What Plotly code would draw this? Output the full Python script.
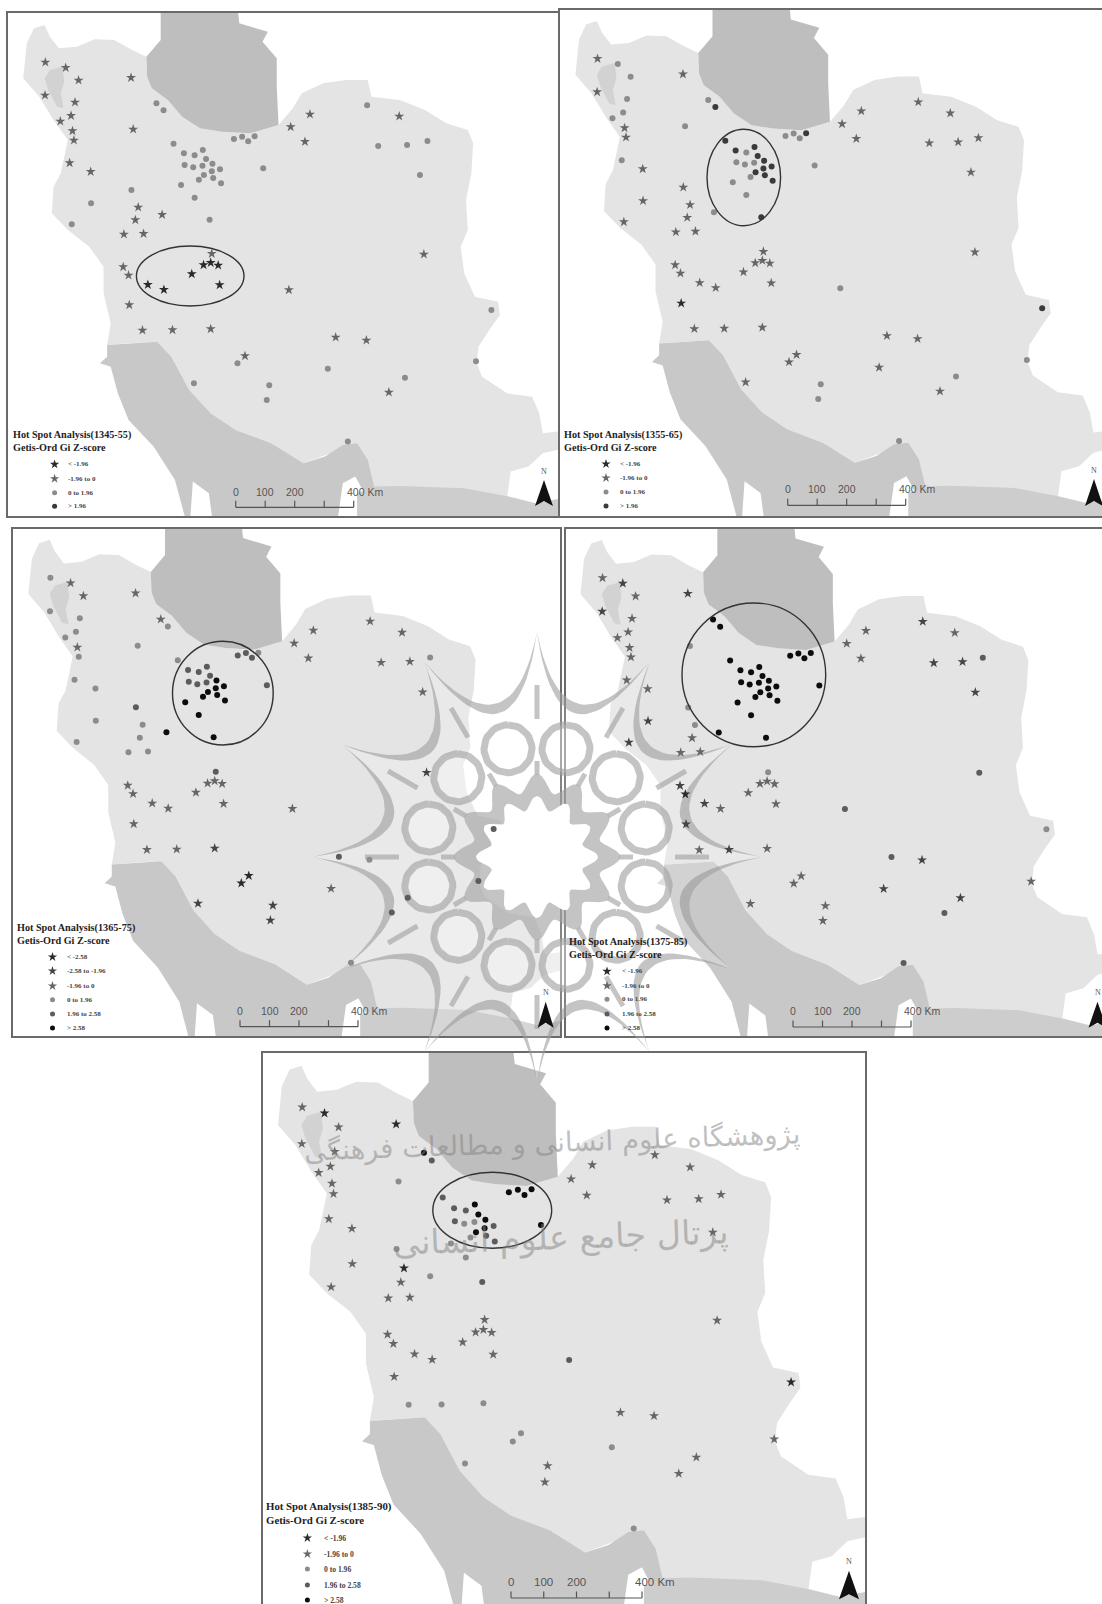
import numpy as np
import plotly.graph_objects as go

W, H = 1102, 1604

# ---------- station positions (map units) ----------
station_x = [127,184,220,126,210,199,169,203,207,195,254,367,373,438,458,486,515,545,568,577,
             517,541,567,595,616,593,571,597,557,619,507,545,655,678,695,713,737,368,255,387,
             454,379,201,347,402,587,593,570,590,611,537,345,360,414,459,615,809,362,399,483,
             590,686,665,543,754,747,918,940,1026,1134,1089,1333,1376,1187,974,814,868,854,1028,1118,
             1059,1140,1197,1176]
station_y = [187,203,241,286,307,347,364,393,421,489,515,233,388,310,331,431,460,466,450,477,
             495,502,497,491,508,514,525,534,539,550,555,593,417,410,424,409,505,570,610,622,
             644,660,673,703,701,659,761,795,788,796,822,801,826,854,869,855,870,915,991,990,
             987,1068,1090,1150,1156,1200,1106,1012,1021,1133,1177,1084,930,763,1325,381,343,425,316,349,
             438,435,423,525]

# ---------- z-score class of every station in each period ----------
class_1345 = "s s s s s s s s s s  s s s c c c c c c c  c c c c c c c c c c  c c c c c c c c c s  s s c s s c s S S S  S s s S S S s s s s  s s c c c c c s s c  s c c s c s s s c s  c c c c".split()
class_1355 = "s c c s c c c s s c  s s c c D D D c D D  c c c D D D D D c D  c c c c c D c s s s  c s s s s D s s s s  s s s s s s c S s s  s s s s c c s s s c  s c D s c s s s s s  s s s s".split()
class_1365 = "c s s c c c c s c c  c s c s c c m m m m  m m m d d d d d d d  d d m m m c m m c c  d c c c c d m s s s  s s s s s s s s s s  T S S T T T s m c m  m m m T c s s s s s  s s c s".split()
class_1375 = "s T s T s s s s s s  s T c d d d d d d d  d d d d d d d d d d  d d d d d d d c T c  d s T s s d c s s s  s T S T s s m T s T  s s s s s s T m T T  m s c m m s s s T s  T T m T".split()
class_1385 = "s S s s s s s s s s  s S c d m m m m d d  m c c d m d d m c m  c c d d d d d c s S  c s s s s m s s s s  s s s s s s m s c c  c c c c s s c s s s  s s S s c s s s s s  s s s s".split()
period_classes = [class_1345, class_1355, class_1365, class_1375, class_1385]

titles = ["Hot Spot Analysis(1345-55)", "Hot Spot Analysis(1355-65)", "Hot Spot Analysis(1365-75)",
          "Hot Spot Analysis(1375-85)", "Hot Spot Analysis(1385-90)"]
subtitle = "Getis-Ord Gi Z-score"
legend_labels = [["< -1.96", "-1.96 to 0", "0 to 1.96", "> 1.96"],
                 ["< -1.96", "-1.96 to 0", "0 to 1.96", "> 1.96"],
                 ["< -2.58", "-2.58 to -1.96", "-1.96 to 0", "0 to 1.96", "1.96 to 2.58", "> 2.58"],
                 ["< -1.96", "-1.96 to 0", "0 to 1.96", "1.96 to 2.58", "> 2.58"],
                 ["< -1.96", "-1.96 to 0", "0 to 1.96", "1.96 to 2.58", "> 2.58"]]
legend_classes = [["S","s","c","D"], ["S","s","c","D"], ["S","T","s","c","m","d"],
                  ["S","s","c","m","d"], ["S","s","c","m","d"]]
scale_labels = ["0", "100", "200", "400 Km"]

# ---------- base map outlines (map units) ----------
iran_x = [95,125,140,165,215,265,320,370,410,412,425,470,510,560,620,700,780,820,845,905,970,1030,1040,1120,1190,1250,1310,1325,1320,1305,1310,1290,1300,1330,1395,1400,1370,1340,1335,1350,1420,1490,1510,1520,1600,1600,1520,1480,1430,1420,1300,1200,1050,
          1000,850,760,660,590,530,480,440,360,300,310,290,290,250,190,145,150,170,190,150,110,65,75]
iran_y = [85,75,110,145,140,118,120,150,170,230,265,300,350,385,395,400,375,325,280,250,240,240,290,300,330,370,390,430,520,600,690,740,820,890,905,945,990,1040,1090,1130,1180,1190,1240,1300,1290,1340,1360,1400,1415,1495,1495,1495,1495,
          1330,1390,1330,1290,1240,1170,1070,1025,1030,1035,970,880,800,740,690,640,560,520,420,360,290,235,130]
caspian_x = [450,665,670,700,750,735,775,775,780,700,620,560,510,470,425,412,410,450]
caspian_y = [20,20,70,80,95,125,175,260,375,400,395,385,350,300,265,230,170,120]
gulf_x = [300,360,440,480,530,590,660,760,850,910,960,1000,1030,1050,1020,995,960,940,600,585,540,530,490,430,360,330,310,280,300]
gulf_y = [1035,1030,1025,1070,1170,1240,1290,1330,1390,1370,1335,1330,1380,1470,1480,1430,1450,1600,1600,1480,1445,1600,1440,1340,1260,1180,1100,1090,1070]
oman_x = [1050,1120,1300,1425,1500,1600,1600,1000,1000]
oman_y = [1460,1458,1465,1490,1510,1490,1600,1600,1480]
urmia_x = [140,175,180,170,178,160,135,125]
urmia_y = [210,200,245,280,325,320,270,235]

# ---------- page layout of the panels (pixels) ----------
frames = [(8,13,558,516), (560,10,1102,516), (13,529,560,1036), (566,529,1102,1036), (263,1053,865,1604)]
# map-unit to pixel: (ax, bx, ay, by)
transforms = [(0.3571,0,0.3333,0), (0.3560,552.3,0.3359,-4.1), (0.3549,5.3,0.3383,514.4),
              (0.3554,557.4,0.3383,514.7), (0.3914,252.5,0.3701,1038)]
ellipses = [(136.4,246,244,306), (707,129.3,780.6,225.7), (172.5,641.3,273.2,745),
            (682,603,825.7,746.7), (432.8,1172.3,551.7,1248.2)]
title_pos = [(10.5,435,447), (562,434.7,447), (15,928,940), (567.4,942.3,954), (264,1506,1519.6)]
legend_sym_x = [54.6, 606, 52.5, 607, 307.4]
legend_txt_x = [66, 618, 65, 620, 322]
legend_y = [[464.3,478.7,492.7,506.3], [464,478,492,506], [957,971,986,999.7,1014,1028],
            [971.3,985.7,999.3,1014,1028], [1538,1554,1569,1585,1600]]
scale_bars = [(235.7,118,507.3,491.7), (787.7,118,505.3,489.3), (240,118,1026.7,1011),
              (793,118,1027,1011), (511,131,1598,1581.7)]
norths = [(544,480,506,9,471), (1094,479,506,9,470), (545.7,1001.7,1027.7,8,992),
          (1097.5,1001.7,1027.7,9,992), (849,1570.7,1599.3,10,1561)]

star_classes = {"S": "#2a2a2a", "T": "#444444", "s": "#666666"}
dot_classes = {"c": "#8c8c8c", "m": "#5c5c5c", "D": "#3a3a3a", "d": "#0c0c0c"}
COL = {**star_classes, **dot_classes}

fig = go.Figure()
layout = dict(width=W, height=H, margin=dict(l=0, r=0, t=0, b=0), autosize=False, showlegend=False,
              paper_bgcolor="white", plot_bgcolor="rgba(0,0,0,0)", shapes=[], annotations=[])


def hidden(**kw):
    return dict(visible=False, showgrid=False, zeroline=False, fixedrange=True, **kw)


def panel_ranges(i):
    x0, y0, x1, y1 = frames[i]
    ax, bx, ay, by = transforms[i]
    return dict(
        xr=[(x0 - bx) / ax, (x1 - bx) / ax], yr=[(y1 - by) / ay, (y0 - by) / ay],
        xd=[x0 / W, x1 / W], yd=[1 - y1 / H, 1 - y0 / H])


# base maps: axes 1-5
for i in range(5):
    n = i + 1
    r = panel_ranges(i)
    xa, ya = f"x{n}", f"y{n}"
    for px, py, col in [(iran_x, iran_y, "#e4e4e4"), (caspian_x, caspian_y, "#bebebe"),
                        (gulf_x, gulf_y, "#c8c8c8"), (oman_x, oman_y, "#cdcdcd"), (urmia_x, urmia_y, "#d2d2d2")]:
        fig.add_trace(go.Scatter(x=px + px[:1], y=py + py[:1], mode="lines", fill="toself", fillcolor=col,
                                 line=dict(width=0, color=col), hoverinfo="skip", xaxis=xa, yaxis=ya))
    axis_style = dict(showline=True, linecolor="#6a6a6a", linewidth=1.5, showgrid=False,
                      zeroline=False, showticklabels=False, ticks="", fixedrange=True)
    # panels running off the page edge have no line on that edge
    layout[f"xaxis{n}"] = dict(range=r["xr"], domain=r["xd"], anchor=ya, mirror=i != 4,
                               side="top" if i == 4 else "bottom", **axis_style)
    layout[f"yaxis{n}"] = dict(range=r["yr"], domain=r["yd"], anchor=xa, mirror=i not in (1, 3), **axis_style)

# watermark: axis 6 (page pixels)
cx, cy, tip_r = 537.0, 857.0, 225.0
wm = "rgba(160,160,160,0.62)"


def wm_pts(r, deg):
    a = np.radians(deg)
    return cx + r * np.sin(a), cy - r * np.cos(a)


veil_x, veil_y = [], []
cres_x, cres_y = [], []
t = np.linspace(0, 1, 28)
for k in range(12):
    a0, a1 = 30 * k, 30 * (k + 1)
    p0, p2 = wm_pts(tip_r, a0), wm_pts(tip_r, a1)
    c_out, c_in = wm_pts(100, a0 + 15), wm_pts(80, a0 + 15)
    bx_o = (1-t)**2*p0[0] + 2*(1-t)*t*c_out[0] + t**2*p2[0]
    by_o = (1-t)**2*p0[1] + 2*(1-t)*t*c_out[1] + t**2*p2[1]
    bx_i = (1-t)**2*p0[0] + 2*(1-t)*t*c_in[0] + t**2*p2[0]
    by_i = (1-t)**2*p0[1] + 2*(1-t)*t*c_in[1] + t**2*p2[1]
    cres_x += list(bx_o) + list(bx_i[::-1]) + [bx_o[0], None]
    cres_y += list(by_o) + list(by_i[::-1]) + [by_o[0], None]
    veil_x += list(bx_i)
    veil_y += list(by_i)
fig.add_trace(go.Scatter(x=veil_x + veil_x[:1], y=veil_y + veil_y[:1], mode="lines", fill="toself",
                         fillcolor="rgba(255,255,255,0.18)", line=dict(width=0), hoverinfo="skip",
                         xaxis="x6", yaxis="y6"))
fig.add_trace(go.Scatter(x=cres_x, y=cres_y, mode="lines", fill="toself", fillcolor=wm, line=dict(width=0),
                         hoverinfo="skip", xaxis="x6", yaxis="y6"))
# short links: ring band to centre band, and ring band out to the spike bases
sp_x, sp_y = [], []
for k in range(12):
    for r_a, r_b in [(82, 96), (138, 172)]:
        p_a, p_b = wm_pts(r_a, 30 * k), wm_pts(r_b, 30 * k)
        sp_x += [p_a[0], p_b[0], None]
        sp_y += [p_a[1], p_b[1], None]
fig.add_trace(go.Scatter(x=sp_x, y=sp_y, mode="lines", line=dict(width=5, color=wm), hoverinfo="skip",
                         xaxis="x6", yaxis="y6"))
th = np.linspace(0, 360, 49)
for k in range(12):
    ccx, ccy = wm_pts(112, 15 + 30 * k)
    ring_x = ccx + 24 * np.sin(np.radians(th))
    ring_y = ccy - 24 * np.cos(np.radians(th))
    fig.add_trace(go.Scatter(x=ring_x, y=ring_y, mode="lines", line=dict(width=7, color=wm), fill="toself",
                             fillcolor="rgba(255,255,255,0.30)", hoverinfo="skip", xaxis="x6", yaxis="y6"))
th2 = np.linspace(0, 360, 241)
ro = 74 + 9 * np.cos(np.radians(12 * th2))
fig.add_trace(go.Scatter(x=cx + ro*np.sin(np.radians(th2)), y=cy - ro*np.cos(np.radians(th2)), mode="lines",
                         fill="toself", fillcolor=wm, line=dict(width=0), hoverinfo="skip", xaxis="x6", yaxis="y6"))
rf = 54 + 7 * np.cos(np.radians(12 * th2))
fig.add_trace(go.Scatter(x=cx + rf*np.sin(np.radians(th2)), y=cy - rf*np.cos(np.radians(th2)), mode="lines",
                         fill="toself", fillcolor="white", line=dict(width=0), hoverinfo="skip", xaxis="x6", yaxis="y6"))
layout["xaxis6"] = hidden(range=[0, W], domain=[0, 1], anchor="y6")
layout["yaxis6"] = hidden(range=[H, 0], domain=[0, 1], anchor="x6")

# stations: axes 7-11
for i, cls in enumerate(period_classes):
    n = 7 + i
    r = panel_ranges(i)
    for c in ["c", "s", "T", "m", "D", "S", "d"]:
        idx = [j for j, v in enumerate(cls) if v == c]
        if not idx:
            continue
        is_star = c in star_classes
        fig.add_trace(go.Scatter(
            x=[station_x[j] for j in idx], y=[station_y[j] for j in idx], mode="markers",
            marker=dict(symbol="star" if is_star else "circle", size=7.5 if is_star else 6, color=COL[c],
                        line=dict(width=0)),
            hoverinfo="skip", xaxis=f"x{n}", yaxis=f"y{n}"))
    layout[f"xaxis{n}"] = hidden(range=r["xr"], domain=r["xd"], anchor=f"y{n}")
    layout[f"yaxis{n}"] = hidden(range=r["yr"], domain=r["yd"], anchor=f"x{n}")

# map furniture: axis 12 (page pixels)
ann = layout["annotations"]


def note(x, y, text, size, family="Liberation Serif", color="#222222", anchor="left", **kw):
    ann.append(dict(x=x, y=y, xref="x12", yref="y12", text=text, showarrow=False, xanchor=anchor, yanchor="middle",
                    font=dict(family=family, size=size, color=color), **kw))


for i in range(5):
    big = i == 4
    # ellipse
    ex0, ey0, ex1, ey1 = ellipses[i]
    layout["shapes"].append(dict(type="circle", xref="x12", yref="y12", x0=ex0, y0=ey0, x1=ex1, y1=ey1,
                                 line=dict(color="#333333", width=1.4), layer="above"))
    # titles
    tx, ty1, ty2 = title_pos[i]
    note(tx, ty1, f"<b>{titles[i]}</b>", 10.2 if not big else 10.8)
    note(tx, ty2, f"<b>{subtitle}</b>", 10.2 if not big else 10.8)
    # legend
    for lab, c, ly in zip(legend_labels[i], legend_classes[i], legend_y[i]):
        is_star = c in star_classes
        fig.add_trace(go.Scatter(x=[legend_sym_x[i]], y=[ly], mode="markers",
                                 marker=dict(symbol="star" if is_star else "circle", size=7 if is_star else 5,
                                             color=COL[c], line=dict(width=0)),
                                 hoverinfo="skip", xaxis="x12", yaxis="y12"))
        note(legend_txt_x[i], ly, f"<b>{lab}</b>", 7 if not big else 7.6, color="#444444")
    # scale bar
    bx0, bw, by_, ly_ = scale_bars[i]
    sx, sy = [bx0, bx0 + bw], [by_, by_]
    ticks = [0, 0.25, 0.5, 0.75, 1]
    tick_h = 6.5
    xs, ys = list(sx) + [None], list(sy) + [None]
    for f in ticks:
        xs += [bx0 + f * bw, bx0 + f * bw, None]
        ys += [by_, by_ - tick_h, None]
    fig.add_trace(go.Scatter(x=xs, y=ys, mode="lines", line=dict(color="#555555", width=1.2), hoverinfo="skip",
                             xaxis="x12", yaxis="y12"))
    fs = 10.5 if not big else 11.5
    for lab, f in zip(scale_labels[:3], ticks[:3]):
        note(bx0 + f * bw, ly_, lab, fs, family="Liberation Sans", color="#555555", anchor="center")
    note(bx0 + bw - 9, ly_, scale_labels[3], fs, family="Liberation Sans", color="#555555")
    # north arrow
    nx, ntip, nbot, nhw, ny = norths[i]
    fig.add_trace(go.Scatter(x=[nx, nx + nhw, nx, nx - nhw, nx], y=[ntip, nbot, nbot - 5, nbot, ntip], mode="lines",
                             fill="toself", fillcolor="#111111", line=dict(width=0), hoverinfo="skip",
                             xaxis="x12", yaxis="y12"))
    note(nx, ny, "N", 8, color="#555555", anchor="center")

layout["xaxis12"] = hidden(range=[0, W], domain=[0, 1], anchor="y12")
layout["yaxis12"] = hidden(range=[H, 0], domain=[0, 1], anchor="x12")

# publisher's watermark text
note(552, 1142, "پژوهشگاه علوم انسانی و مطالعات فرهنگی", 27.5, family="DejaVu Sans", color="rgba(130,130,130,0.5)",
     anchor="center", textangle=-2)
note(560, 1237, "پرتال جامع علوم انسانی", 33.5, family="DejaVu Sans", color="rgba(130,130,130,0.5)",
     anchor="center", textangle=-2)

fig.update_layout(**layout)
fig.write_html("out.html", config=dict(displayModeBar=False),
               post_script="document.body.style.margin='0';")
